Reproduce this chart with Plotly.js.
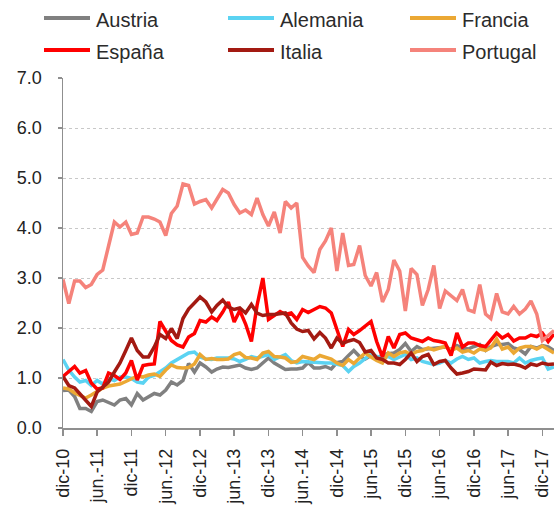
<!DOCTYPE html>
<html><head><meta charset="utf-8">
<script src="https://cdn.plot.ly/plotly-3.0.1.min.js"></script>
<style>html,body{margin:0;padding:0;background:#fff}#chart{width:554px;height:508px}</style>
</head><body><div id="chart"></div>
<script>
// Monthly series, dic-10 .. feb-18
const firstYear = 2010, firstMonth = 12;
const seriesNames = ['Austria', 'Alemania', 'Francia', 'España', 'Italia', 'Portugal'];
const seriesColors = ['#808080', '#5BD3F2', '#EBA834', '#FF0000', '#A31A12', '#F5837B'];

const austria = [0.75,0.76,0.63,0.39,0.39,0.33,0.53,0.56,0.51,0.46,
  0.56,0.59,0.46,0.69,0.56,0.62,0.69,0.66,0.76,0.92,
  0.86,0.95,1.29,1.12,1.30,1.22,1.12,1.18,1.22,1.21,
  1.23,1.26,1.20,1.17,1.20,1.30,1.40,1.30,1.23,1.17,
  1.18,1.18,1.20,1.31,1.20,1.20,1.23,1.18,1.31,1.33,
  1.45,1.55,1.43,1.38,1.45,1.37,1.47,1.49,1.50,1.57,
  1.69,1.53,1.63,1.57,1.58,1.60,1.60,1.62,1.57,1.65,
  1.60,1.58,1.63,1.67,1.55,1.63,1.67,1.67,1.69,1.60,
  1.57,1.48,1.63,1.60,1.65,1.62,1.55];
const alemania = [1.37,1.16,1.02,0.92,0.95,0.85,0.95,0.88,0.99,0.95,
  1.02,1.02,0.99,0.92,0.90,1.02,1.05,1.12,1.20,1.30,
  1.37,1.42,1.50,1.52,1.42,1.38,1.37,1.40,1.40,1.40,
  1.38,1.33,1.37,1.43,1.40,1.43,1.47,1.37,1.42,1.47,
  1.35,1.30,1.33,1.32,1.31,1.31,1.30,1.30,1.28,1.25,
  1.13,1.23,1.30,1.40,1.48,1.43,1.40,1.43,1.37,1.42,
  1.47,1.37,1.40,1.33,1.30,1.27,1.30,1.35,1.30,1.38,
  1.43,1.37,1.40,1.30,1.33,1.35,1.33,1.33,1.33,1.30,
  1.40,1.30,1.35,1.38,1.40,1.18,1.22];
const francia = [0.80,0.78,0.70,0.65,0.60,0.66,0.74,0.80,0.84,0.86,
  0.88,0.93,0.98,1.04,1.02,1.06,1.08,1.03,1.16,1.26,
  1.21,1.20,1.21,1.28,1.47,1.37,1.39,1.37,1.37,1.38,
  1.47,1.50,1.41,1.40,1.37,1.50,1.53,1.43,1.42,1.40,
  1.31,1.33,1.43,1.40,1.37,1.45,1.42,1.38,1.30,1.25,
  1.37,1.29,1.40,1.50,1.42,1.35,1.30,1.50,1.43,1.50,
  1.53,1.47,1.53,1.55,1.60,1.56,1.60,1.63,1.55,1.60,
  1.52,1.55,1.50,1.58,1.55,1.60,1.78,1.58,1.62,1.50,
  1.60,1.63,1.63,1.58,1.64,1.57,1.50];
const espana = [1.03,1.12,1.23,1.10,1.15,0.90,0.78,0.80,1.10,1.05,
  0.97,1.10,1.35,0.96,1.25,1.27,1.28,2.13,1.92,1.75,
  1.66,1.62,1.82,1.89,2.15,2.12,2.22,2.15,2.32,2.52,
  2.12,2.35,2.08,1.73,2.45,3.00,2.17,2.25,2.33,2.27,
  2.30,2.17,2.37,2.31,2.38,2.43,2.40,2.30,1.97,1.63,
  1.97,1.87,1.95,2.03,2.13,1.73,1.42,1.83,1.60,1.87,
  1.90,1.80,1.77,1.73,1.80,1.75,1.73,1.70,1.45,1.90,
  1.62,1.70,1.70,1.65,1.63,1.77,1.90,1.80,1.87,1.74,
  1.80,1.80,1.86,1.83,1.90,1.73,1.88];
const italia = [1.03,0.85,0.80,0.68,0.56,0.43,0.72,0.82,0.92,1.12,
  1.30,1.55,1.80,1.55,1.42,1.42,1.62,1.87,1.79,1.99,
  1.79,2.19,2.38,2.50,2.62,2.52,2.32,2.45,2.56,2.42,
  2.37,2.40,2.30,2.47,2.30,2.25,2.27,2.27,2.29,2.30,
  2.10,1.98,1.93,1.95,1.78,1.91,1.80,1.60,1.80,1.69,
  1.74,1.77,1.71,1.52,1.55,1.40,1.37,1.30,1.30,1.27,
  1.37,1.50,1.33,1.43,1.47,1.27,1.33,1.35,1.20,1.08,
  1.10,1.13,1.18,1.17,1.16,1.32,1.25,1.29,1.27,1.28,
  1.25,1.20,1.28,1.25,1.30,1.27,1.28];
const portugal = [2.97,2.49,2.94,2.94,2.81,2.87,3.07,3.16,3.64,4.12,
  4.02,4.12,3.87,3.90,4.22,4.22,4.18,4.12,3.85,4.29,
  4.44,4.88,4.85,4.48,4.53,4.57,4.40,4.57,4.77,4.70,
  4.47,4.30,4.36,4.27,4.60,4.27,4.04,4.32,3.90,4.53,
  4.40,4.50,3.41,3.24,3.11,3.57,3.74,4.00,3.14,3.90,
  3.25,3.27,3.65,3.05,2.84,3.11,2.52,2.77,3.36,3.14,
  2.34,3.19,3.07,2.45,2.77,3.25,2.39,2.74,2.65,2.55,
  2.77,2.36,2.32,2.87,2.28,2.19,2.69,2.32,2.28,2.43,
  2.28,2.38,2.54,2.28,1.75,1.85,1.95];

const tickVals = ['2010-12-01','2011-06-01','2011-12-01','2012-06-01','2012-12-01','2013-06-01','2013-12-01',
  '2014-06-01','2014-12-01','2015-06-01','2015-12-01','2016-06-01','2016-12-01','2017-06-01','2017-12-01'];
const tickText = ['dic-10','jun.-11','dic-11','jun.-12','dic-12','jun.-13','dic-13',
  'jun.-14','dic-14','jun-15','dic-15','jun-16','dic-16','jun-17','dic-17'];

const allSeries = [austria, alemania, francia, espana, italia, portugal];

function monthDates(n) {
  const out = []; let y = firstYear, m = firstMonth;
  for (let i = 0; i < n; i++) {
    out.push(y + '-' + String(m).padStart(2, '0') + '-01');
    m++; if (m > 12) { m = 1; y++; }
  }
  return out;
}
const dates = monthDates(austria.length);

const W = 554, H = 508;
const M = {l: 63, r: 0, t: 78, b: 80, pad: 0};
const pw = W - M.l - M.r, ph = H - M.t - M.b;
const px2x = px => (px - M.l) / pw;
const py2y = py => (H - M.b - py) / ph;

const traces = allSeries.map((vals, i) => ({
  type: 'scatter', mode: 'lines', name: seriesNames[i],
  x: dates, y: vals,
  line: {color: seriesColors[i], width: 3.5},
  showlegend: false, hoverinfo: 'skip'
}));

// custom legend: 3 columns x 2 rows
const legCols = [44, 228, 410];
const legRows = [18, 50];
const shapes = [], annotations = [];
seriesNames.forEach((name, i) => {
  const cx = legCols[i % 3], cy = legRows[Math.floor(i / 3)];
  shapes.push({type: 'line', xref: 'paper', yref: 'paper',
    x0: px2x(cx), x1: px2x(cx + 46), y0: py2y(cy), y1: py2y(cy),
    line: {color: seriesColors[i], width: 4}});
  annotations.push({xref: 'paper', yref: 'paper', x: px2x(cx + 50), y: py2y(cy + 2),
    xanchor: 'left', yanchor: 'middle', showarrow: false, text: name,
    font: {family: 'Liberation Sans, Arial, sans-serif', size: 20, color: '#2b2b2b'}});
});

const axisColor = '#8f8f8f';
const tickFont = {family: 'Liberation Sans, Arial, sans-serif', size: 18, color: '#222'};

const layout = {
  width: W, height: H, margin: M,
  paper_bgcolor: '#fff', plot_bgcolor: '#fff',
  showlegend: false,
  xaxis: {
    type: 'date', range: [dates[0], dates[dates.length - 1]],
    tickmode: 'array', tickvals: tickVals, ticktext: tickText, tickangle: -90,
    ticks: 'outside', ticklen: 6, tickwidth: 1.5, tickcolor: axisColor,
    showline: true, linecolor: axisColor, linewidth: 1.5,
    showgrid: false, zeroline: false, tickfont: tickFont, automargin: false,
    ticklabelstandoff: 6
  },
  yaxis: {
    range: [0, 7], tick0: 0, dtick: 1, tickformat: '.1f',
    showgrid: true, gridcolor: '#c8c8c8', griddash: 'dot', gridwidth: 1,
    showline: true, linecolor: axisColor, linewidth: 1.5,
    ticks: 'outside', ticklen: 4, tickwidth: 1.5, tickcolor: axisColor,
    zeroline: false, tickfont: tickFont, automargin: false,
    ticklabelstandoff: 12
  },
  shapes: shapes, annotations: annotations
};

Plotly.newPlot('chart', traces, layout, {staticPlot: true, displayModeBar: false});
</script>
</body></html>
